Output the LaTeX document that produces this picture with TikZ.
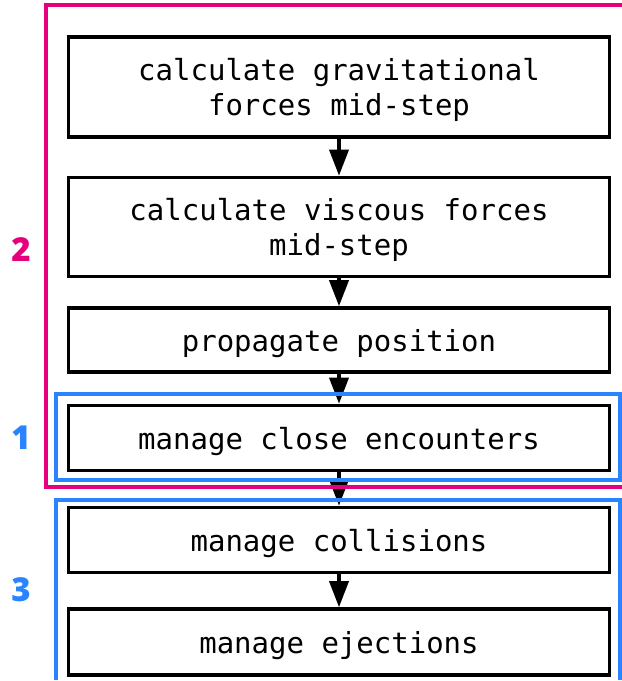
\documentclass[tikz,border=0pt]{standalone}
\usepackage{fontspec}
\setmonofont{DejaVu Sans Mono}
\newfontfamily\labelfont{Open Sans}[UprightFont=*-Bold]
\usetikzlibrary{arrows.meta}
\definecolor{grpPink}{RGB}{230,0,126}
\definecolor{grpBlue}{RGB}{42,132,255}
\begin{document}
\begin{tikzpicture}[x=1pt,y=-1pt,
  stepbox/.style={draw=black,line width=3.6pt,fill=white,inner sep=0pt,
    minimum width=541pt,align=center,text depth=0pt,
    font=\ttfamily\fontsize{29}{35}\selectfont},
  flow/.style={line width=3.6pt,-{Triangle[width=19pt,length=26pt]}},
  grpframe/.style={line width=3.2pt},
  grplabel/.style={font=\labelfont\bfseries\fontsize{33}{36}\selectfont,inner sep=0pt}]
\useasboundingbox (0,0) rectangle (622,681);
\fill[white] (0,0) rectangle (622,681);

% process steps
\node[stepbox,minimum height=100pt] (grav) at (339,87) {calculate gravitational\\forces mid-step};
\node[stepbox,minimum height=99pt] (visc) at (339,227) {calculate viscous forces\\mid-step};
\node[stepbox,minimum height=64pt] (prop) at (339,340) {propagate position};
\node[stepbox,minimum height=65pt] (close) at (339,438) {manage close encounters};
\node[stepbox,minimum height=65pt] (coll) at (339,540) {manage collisions};
\node[stepbox,minimum height=66pt] (eject) at (339,642) {manage ejections};

% flow between steps
\draw[flow] (grav) -- (visc);
\draw[flow] (visc) -- (prop);
\draw[flow] (prop) -- (close);
\draw[flow] (close) -- (coll);
\draw[flow] (coll) -- (eject);

% group frames
\draw[grpframe,grpPink] (630,5) -- (46,5) -- (46,487) -- (630,487);
\draw[grpframe,grpBlue] (56,394) rectangle (620,480);
\draw[grpframe,grpBlue] (56,680) -- (56,500) -- (620,500) -- (620,680);

% group numbers
\node[grplabel,text=grpPink] (lbl2) at (21,250) {2};
\node[grplabel,text=grpBlue] (lbl1) at (21,438) {1};
\node[grplabel,text=grpBlue] (lbl3) at (21,590) {3};
\end{tikzpicture}
\end{document}
